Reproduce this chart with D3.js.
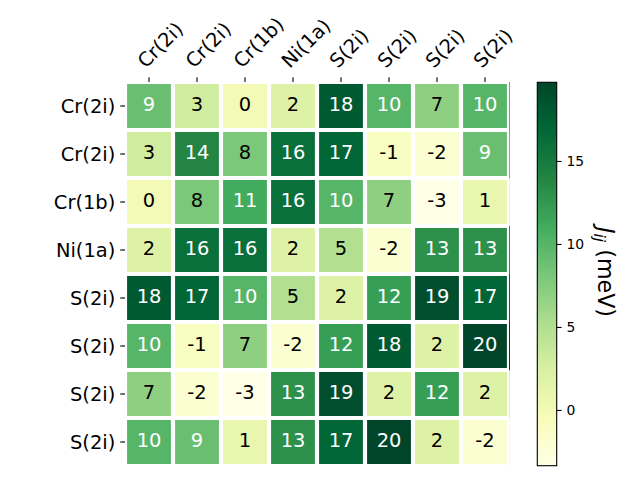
<!DOCTYPE html>
<html>
<head>
<meta charset="utf-8">
<script src="https://cdn.jsdelivr.net/npm/d3@7"></script>
<style>
  html, body { margin: 0; padding: 0; background: #fff; }
  svg { display: block; font-family: "DejaVu Sans", sans-serif; }
</style>
</head>
<body>
<svg id="chart" width="640" height="480"></svg>
<script>
const rowLabels = ["Cr(2i)", "Cr(2i)", "Cr(1b)", "Ni(1a)", "S(2i)", "S(2i)", "S(2i)", "S(2i)"];
const colLabels = ["Cr(2i)", "Cr(2i)", "Cr(1b)", "Ni(1a)", "S(2i)", "S(2i)", "S(2i)", "S(2i)"];
const row0 = [9, 3, 0, 2, 18, 10, 7, 10];
const row1 = [3, 14, 8, 16, 17, -1, -2, 9];
const row2 = [0, 8, 11, 16, 10, 7, -3.36, 1];
const row3 = [2, 16, 16, 2, 5, -2, 13, 13];
const row4 = [18, 17, 10, 5, 2, 12, 19, 17];
const row5 = [10, -1, 7, -2, 12, 18, 2, 19.74];
const row6 = [7, -2, -3.36, 13, 19, 2, 12, 2];
const row7 = [10, 9, 1, 13, 17, 19.74, 2, -2];
const matrix = [row0, row1, row2, row3, row4, row5, row6, row7];
const cbTicks = [0, 5, 10, 15];
const cbLabel = "J_ij (meV)";
const ylgn = ["#ffffe5", "#f7fcb9", "#d9f0a3", "#addd8e", "#78c679", "#41ab5d", "#238443", "#006837", "#004529"];

const svg = d3.select("#chart");
const ax = {x0: 125, y0: 82, size: 384};
const fs = 19.44;

const all = matrix.flat();
const vmin = d3.min(all), vmax = d3.max(all);
const color = d3.scaleLinear()
  .domain(ylgn.map((c, i) => vmin + (vmax - vmin) * i / (ylgn.length - 1)))
  .range(ylgn).interpolate(d3.interpolateRgb).clamp(true);
const thresh = (vmin + vmax) / 2;

const x = d3.scaleBand().domain(d3.range(colLabels.length)).range([ax.x0, ax.x0 + ax.size]);
const y = d3.scaleBand().domain(d3.range(rowLabels.length)).range([ax.y0, ax.y0 + ax.size]);

const cells = [];
matrix.forEach((r, i) => r.forEach((v, j) => cells.push({i, j, v})));

// sliver of image beyond right edge
svg.append("g").selectAll("rect").data(cells.filter(d => d.j === colLabels.length - 1)).join("rect")
  .attr("x", x(colLabels.length - 1) + x.bandwidth()).attr("width", 1)
  .attr("y", d => y(d.i)).attr("height", y.bandwidth())
  .attr("fill", d => color(d.v));

svg.append("defs").append("clipPath").attr("id", "axclip").append("rect")
  .attr("x", ax.x0).attr("y", ax.y0).attr("width", ax.size).attr("height", ax.size);

const gA = svg.append("g").attr("clip-path", "url(#axclip)");
gA.selectAll("rect.cell").data(cells).join("rect").attr("class", "cell")
  .attr("x", d => x(d.j)).attr("y", d => y(d.i))
  .attr("width", x.bandwidth()).attr("height", y.bandwidth())
  .attr("fill", d => color(d.v));

// white grid
const lw = 4.17;
d3.range(colLabels.length + 1).forEach(k => {
  const xx = ax.x0 + k * x.bandwidth();
  gA.append("line").attr("x1", xx).attr("x2", xx).attr("y1", ax.y0 - 5).attr("y2", ax.y0 + ax.size + 5)
    .attr("stroke", "#fff").attr("stroke-width", lw);
});
d3.range(rowLabels.length + 1).forEach(k => {
  const yy = ax.y0 + k * y.bandwidth();
  gA.append("line").attr("y1", yy).attr("y2", yy).attr("x1", ax.x0 - 5).attr("x2", ax.x0 + ax.size + 5)
    .attr("stroke", "#fff").attr("stroke-width", lw);
});

// annotations
svg.append("g").selectAll("text").data(cells).join("text")
  .attr("x", d => x(d.j) + x.bandwidth() / 2)
  .attr("y", d => y(d.i) + y.bandwidth() / 2 + 5.2)
  .attr("text-anchor", "middle").attr("font-size", fs)
  .attr("fill", d => d.v > thresh ? "#fff" : "#000")
  .text(d => d3.format(".0f")(d.v).replace("−", "-"));

// ticks
const tl = 4.86;
const gT = svg.append("g").attr("stroke", "#000").attr("stroke-width", 1.1);
colLabels.forEach((c, j) => {
  const cx = x(j) + x.bandwidth() / 2;
  gT.append("line").attr("x1", cx).attr("x2", cx).attr("y1", ax.y0 - tl).attr("y2", ax.y0);
});
rowLabels.forEach((c, i) => {
  const cy = y(i) + y.bandwidth() / 2;
  gT.append("line").attr("y1", cy).attr("y2", cy).attr("x1", ax.x0 - tl).attr("x2", ax.x0);
});

// column labels (rotated 45, anchored left-bottom)
svg.append("g").selectAll("text").data(colLabels).join("text")
  .attr("transform", (d, j) => `translate(${x(j) + x.bandwidth() / 2},${ax.y0 - 2 * tl}) rotate(-45)`)
  .attr("x", 0).attr("y", -4.6).attr("font-size", fs).attr("fill", "#000")
  .attr("text-anchor", "start").text(d => d);

// row labels
svg.append("g").selectAll("text").data(rowLabels).join("text")
  .attr("x", ax.x0 - 2 * tl).attr("y", (d, i) => y(i) + y.bandwidth() / 2 + 7.4)
  .attr("text-anchor", "end").attr("font-size", fs).attr("fill", "#000").text(d => d);

// colorbar
const cb = {x: 537.3, y: 82.3, w: 19.4, h: 383.4};
const grad = svg.select("defs").append("linearGradient").attr("id", "cbgrad")
  .attr("x1", 0).attr("y1", 1).attr("x2", 0).attr("y2", 0);
d3.range(0, 1.0001, 0.01).forEach(t => {
  grad.append("stop").attr("offset", t).attr("stop-color", color(vmin + t * (vmax - vmin)));
});
svg.append("rect").attr("x", cb.x).attr("y", cb.y).attr("width", cb.w).attr("height", cb.h)
  .attr("fill", "url(#cbgrad)");
svg.append("rect").attr("x", cb.x).attr("y", cb.y).attr("width", cb.w).attr("height", cb.h)
  .attr("fill", "none").attr("stroke", "#000").attr("stroke-width", 1.1);
const cy = d3.scaleLinear().domain([vmin, vmax]).range([cb.y + cb.h, cb.y]);
const cbAxis = d3.axisRight(cy).tickValues(cbTicks).tickSize(tl).tickPadding(4.86)
  .tickFormat(d3.format("d"));
const gcb = svg.append("g").attr("transform", `translate(${cb.x + cb.w},0)`).call(cbAxis);
gcb.select(".domain").remove();
gcb.selectAll(".tick line").attr("stroke", "#000").attr("stroke-width", 1.1);
gcb.selectAll(".tick text").attr("font-size", 13.9).attr("font-family", "DejaVu Sans, sans-serif")
  .attr("fill", "#000").attr("dy", "0.36em");

// colorbar label
const parts = cbLabel.match(/^(\w)_(\w+)(.*)$/);
const lab = svg.append("text")
  .attr("transform", `translate(598,${cb.y + cb.h / 2 - 2}) rotate(90)`)
  .attr("text-anchor", "middle").attr("font-size", 22.2).attr("fill", "#000");
lab.append("tspan").attr("font-style", "italic").text(parts[1]);
lab.append("tspan").attr("font-style", "italic").attr("font-size", 15.5).attr("dy", 4).text(parts[2]);
lab.append("tspan").attr("dy", -4).text(parts[3]);
</script>
</body>
</html>
